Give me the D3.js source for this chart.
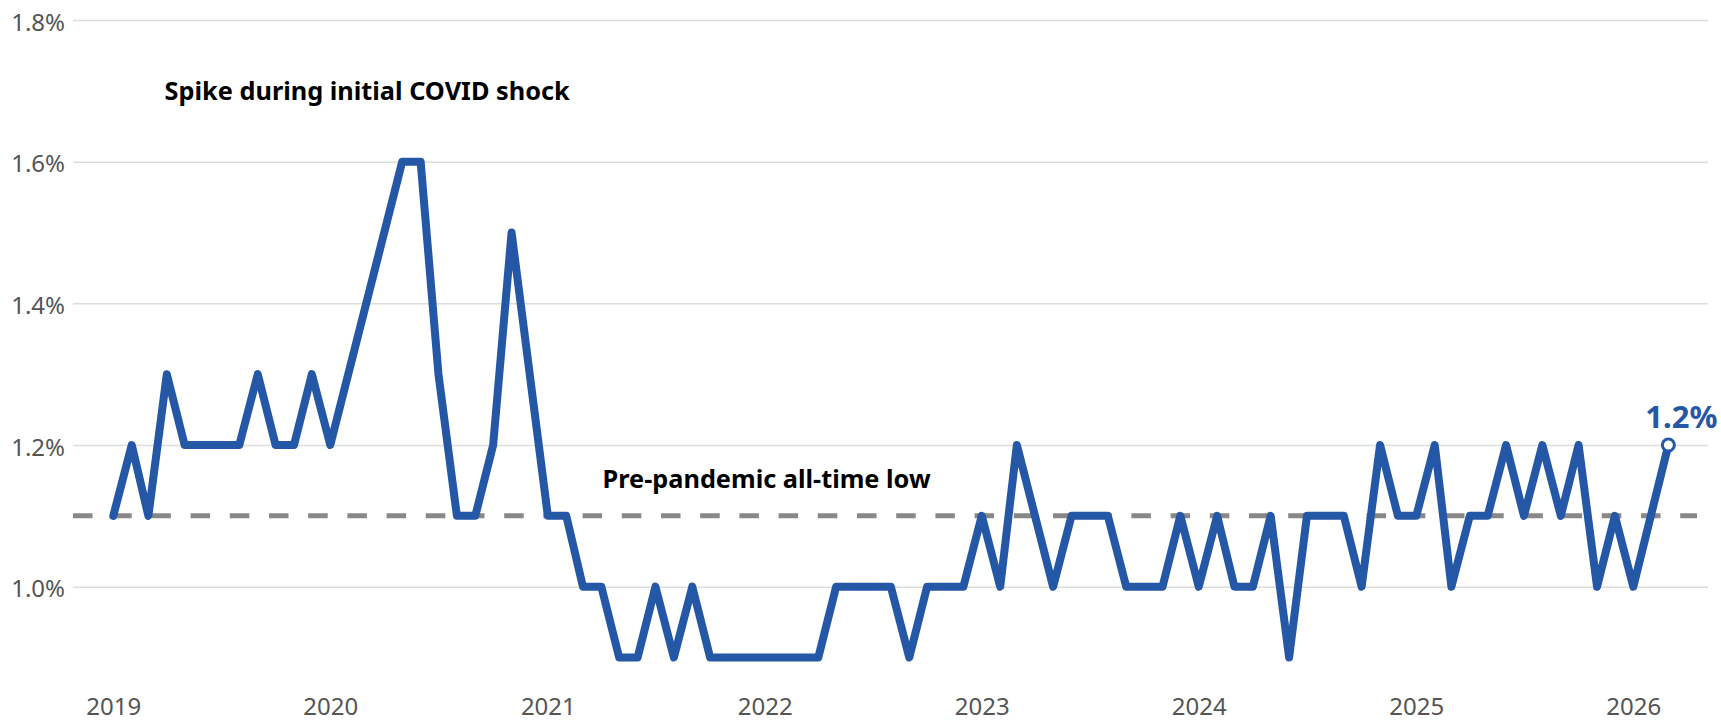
<!DOCTYPE html>
<html>
<head>
<meta charset="utf-8">
<script src="https://cdn.jsdelivr.net/npm/d3@7"></script>
<style>
  body { margin: 0; background: #fff; }
  svg { display: block; font-family: "Noto Sans", sans-serif; }
</style>
</head>
<body>
<svg id="chart" width="1721" height="722"></svg>
<script>
/* Chart data */

// Months that have a point on the line (some months are skipped in the source).
var months = [
	"2019-01", "2019-02", "2019-03", "2019-04", "2019-05", "2019-06",
	"2019-07", "2019-08", "2019-09", "2019-10", "2019-11", "2019-12",
	"2020-01", "2020-05", "2020-06", "2020-07", "2020-08", "2020-09",
	"2020-10", "2020-11",
	"2021-01", "2021-02", "2021-03", "2021-04", "2021-05", "2021-06",
	"2021-07", "2021-08", "2021-09", "2021-10", "2021-11", "2021-12",
	"2022-01", "2022-02", "2022-03", "2022-04", "2022-05", "2022-06",
	"2022-07", "2022-08", "2022-09", "2022-10", "2022-11", "2022-12",
	"2023-01", "2023-02", "2023-03", "2023-05", "2023-06", "2023-07",
	"2023-08", "2023-09", "2023-10", "2023-11", "2023-12",
	"2024-01", "2024-02", "2024-03", "2024-04", "2024-05", "2024-06",
	"2024-07", "2024-08", "2024-09", "2024-10", "2024-11", "2024-12",
	"2025-01", "2025-02", "2025-03", "2025-04", "2025-05", "2025-06",
	"2025-07", "2025-08", "2025-09", "2025-10", "2025-11", "2025-12",
	"2026-01", "2026-03"
];

// Percent values, one per month above.
var values = [
	1.1, 1.2, 1.1, 1.3, 1.2, 1.2,
	1.2, 1.2, 1.3, 1.2, 1.2, 1.3,
	1.2, 1.6, 1.6, 1.3, 1.1, 1.1,
	1.2, 1.5,
	1.1, 1.1, 1.0, 1.0, 0.9, 0.9,
	1.0, 0.9, 1.0, 0.9, 0.9, 0.9,
	0.9, 0.9, 0.9, 0.9, 1.0, 1.0,
	1.0, 1.0, 0.9, 1.0, 1.0, 1.0,
	1.1, 1.0, 1.2, 1.0, 1.1, 1.1,
	1.1, 1.0, 1.0, 1.0, 1.1,
	1.0, 1.1, 1.0, 1.0, 1.1, 0.9,
	1.1, 1.1, 1.1, 1.0, 1.2, 1.1,
	1.1, 1.2, 1.0, 1.1, 1.1, 1.2,
	1.1, 1.2, 1.1, 1.2, 1.0, 1.1,
	1.0, 1.2
];

var yTickValues = [1.0, 1.2, 1.4, 1.6, 1.8];
var xTickYears = ["2019", "2020", "2021", "2022", "2023", "2024", "2025", "2026"];

// Pre-pandemic all-time low reference level.
var lowLevel = 1.1;

var spikeLabel = "Spike during initial COVID shock";
var lowLabel = "Pre-pandemic all-time low";

/* Drawing */

var blue = "#2557a7";
var parseMonth = d3.timeParse("%Y-%m");
var parseYear = d3.timeParse("%Y");

var points = months.map(function (m, i) {
	return { date: parseMonth(m), value: values[i] };
});

var svg = d3.select("#chart");

var gridLeft = 73, gridRight = 1708;

var x = d3.scaleTime()
	.domain([parseYear("2019"), parseYear("2026")])
	.range([113.3, 1633.3]);

var y = d3.scaleLinear()
	.domain([0.9, 1.8])
	.range([657.5, 20]);

// Y axis doubles as the horizontal grid.
var yAxis = d3.axisLeft(y)
	.tickValues(yTickValues)
	.tickSize(-(gridRight - gridLeft))
	.tickPadding(8)
	.tickFormat(function (d) { return d.toFixed(1) + "%"; });

svg.append("g")
	.attr("transform", "translate(" + gridLeft + ",0)")
	.call(yAxis)
	.call(function (g) {
		g.select(".domain").remove();
		g.selectAll(".tick line")
			.attr("stroke", "#dddddd")
			.attr("stroke-width", 1.5);
		g.selectAll(".tick text")
			.attr("fill", "#555555")
			.attr("font-size", 24)
			.attr("font-family", "Noto Sans, sans-serif")
			.attr("dy", "0.42em");
	});

// X axis: year labels only.
var xAxis = d3.axisBottom(x)
	.tickValues(xTickYears.map(parseYear))
	.tickSize(0)
	.tickFormat(d3.timeFormat("%Y"));

svg.append("g")
	.attr("transform", "translate(0," + y(0.9) + ")")
	.call(xAxis)
	.call(function (g) {
		g.select(".domain").remove();
		g.selectAll(".tick text")
			.attr("fill", "#555555")
			.attr("font-size", 24)
			.attr("font-family", "Noto Sans, sans-serif")
			.attr("y", 57.5)
			.attr("dy", 0);
	});

// Dashed reference line.
svg.append("line")
	.attr("x1", gridLeft)
	.attr("x2", 1697)
	.attr("y1", y(lowLevel))
	.attr("y2", y(lowLevel))
	.attr("stroke", "#888888")
	.attr("stroke-width", 5)
	.attr("stroke-dasharray", "19.5,19.7");

// The series line.
var line = d3.line()
	.x(function (d) { return x(d.date); })
	.y(function (d) { return y(d.value); });

svg.append("path")
	.datum(points)
	.attr("d", line)
	.attr("fill", "none")
	.attr("stroke", blue)
	.attr("stroke-width", 8)
	.attr("stroke-linejoin", "round")
	.attr("stroke-linecap", "round");

// Marker and label on the latest point.
var last = points[points.length - 1];

svg.append("circle")
	.attr("cx", x(last.date))
	.attr("cy", y(last.value))
	.attr("r", 6)
	.attr("fill", "#ffffff")
	.attr("stroke", blue)
	.attr("stroke-width", 3);

svg.append("text")
	.attr("x", x(last.date) + 13)
	.attr("y", y(last.value) - 17)
	.attr("text-anchor", "middle")
	.attr("fill", blue)
	.attr("font-size", 31)
	.attr("font-weight", "bold")
	.text(last.value.toFixed(1) + "%");

// Annotations.
svg.append("text")
	.attr("x", 164.6)
	.attr("y", 100)
	.attr("fill", "#000000")
	.attr("font-size", 25.3)
	.attr("font-weight", "bold")
	.text(spikeLabel);

svg.append("text")
	.attr("x", 602.6)
	.attr("y", 488)
	.attr("fill", "#000000")
	.attr("font-size", 25.3)
	.attr("font-weight", "bold")
	.text(lowLabel);
</script>
</body>
</html>
